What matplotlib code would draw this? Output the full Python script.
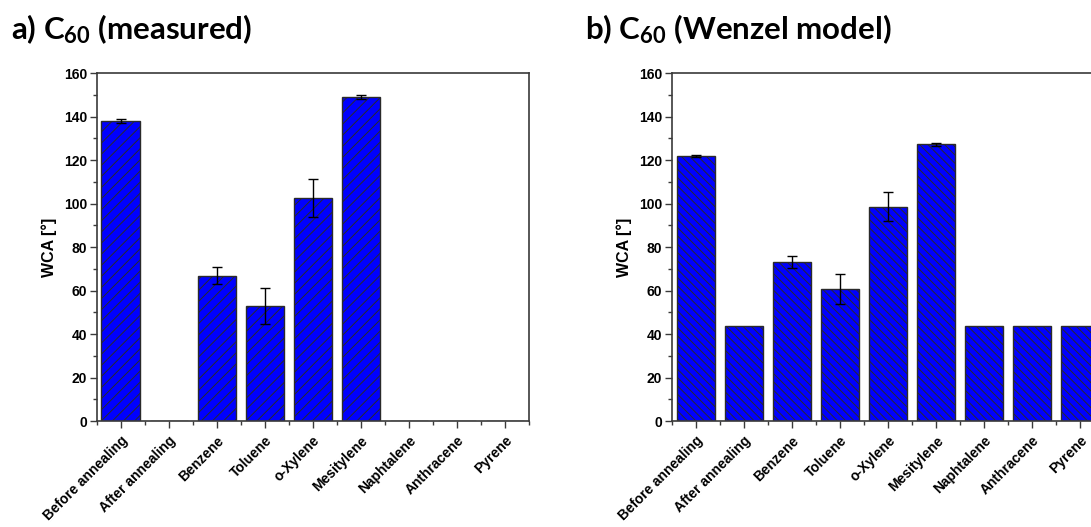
import numpy as np
import matplotlib
matplotlib.use("Agg")
import matplotlib.pyplot as plt
from matplotlib.ticker import MultipleLocator, FixedLocator

plt.rcParams["font.family"] = ["Liberation Sans", "DejaVu Sans"]
plt.rcParams["font.weight"] = "bold"
plt.rcParams["mathtext.fontset"] = "custom"
plt.rcParams["mathtext.rm"] = "Lato:bold"
plt.rcParams["mathtext.it"] = "Lato:bold"
plt.rcParams["mathtext.bf"] = "Lato:bold"
plt.rcParams["hatch.linewidth"] = 0.7
plt.rcParams["hatch.color"] = "black"

categories = ["Before annealing", "After annealing", "Benzene", "Toluene",
              "o-Xylene", "Mesitylene", "Naphtalene", "Anthracene", "Pyrene"]

# measured water contact angles
wca_measured = [138.0, 0, 66.8, 52.9, 102.4, 149.0, 0, 0, 0]
err_measured = [0.8, 0, 3.8, 8.2, 8.8, 0.8, 0, 0, 0]

# Wenzel model estimates
wca_wenzel = [121.8, 43.7, 73.0, 60.6, 98.6, 127.2, 43.7, 43.7, 43.7]
err_wenzel = [0.4, 0, 2.8, 7.0, 6.5, 0.7, 0, 0, 0]

titles = ["a) C$_{60}$ (measured)", "b) C$_{60}$ (Wenzel model)"]

fig = plt.figure(figsize=(10.91, 5.27), dpi=100)
ax_a = fig.add_axes([0.0886, 0.2011, 0.3963, 0.6603])
ax_b = fig.add_axes([0.6159, 0.2011, 0.3963, 0.6603])

x = np.arange(len(categories))
spine_col = "#3a3a3a"


def draw(ax, vals, errs, hatch):
    ax.bar(x, vals, width=0.8, color="#0000ff", edgecolor="#2a2a2a",
           linewidth=1.0, hatch=hatch, zorder=2)
    errs = np.array(errs)
    m = errs > 0
    ax.errorbar(x[m], np.array(vals)[m], yerr=errs[m], fmt="none",
                ecolor="black", elinewidth=1.0, capsize=3.5, capthick=1.0,
                zorder=3)
    ax.set_xlim(-0.5, 8.5)
    ax.set_ylim(0, 160)
    ax.yaxis.set_major_locator(MultipleLocator(20))
    ax.yaxis.set_minor_locator(MultipleLocator(10))
    ax.set_xticks(x)
    ax.xaxis.set_minor_locator(FixedLocator(np.arange(-0.5, 9, 1.0)))
    ax.set_xticklabels(categories, rotation=45, ha="right",
                       rotation_mode="anchor", fontsize=10, fontweight="bold")
    for lab in ax.get_yticklabels():
        lab.set_fontsize(10)
        lab.set_fontweight("bold")
    ax.tick_params(axis="both", which="major", direction="out", length=5,
                   width=1.0, color=spine_col, pad=2)
    ax.tick_params(axis="both", which="minor", direction="out", length=3,
                   width=1.0, color=spine_col)
    ax.tick_params(axis="x", which="major", pad=4)
    for s in ax.spines.values():
        s.set_color(spine_col)
        s.set_linewidth(1.2)
    ax.set_ylabel("WCA [°]", fontsize=11.5, fontweight="bold", labelpad=5)


draw(ax_a, wca_measured, err_measured, "///")
draw(ax_b, wca_wenzel, err_wenzel, "\\\\\\\\")

fig.text(0.010, 0.925, titles[0], fontsize=22.5, fontweight="bold",
         family=["Lato", "DejaVu Sans"])
fig.text(0.536, 0.925, titles[1], fontsize=22.5, fontweight="bold",
         family=["Lato", "DejaVu Sans"])

fig.savefig("out.png", dpi=100)
